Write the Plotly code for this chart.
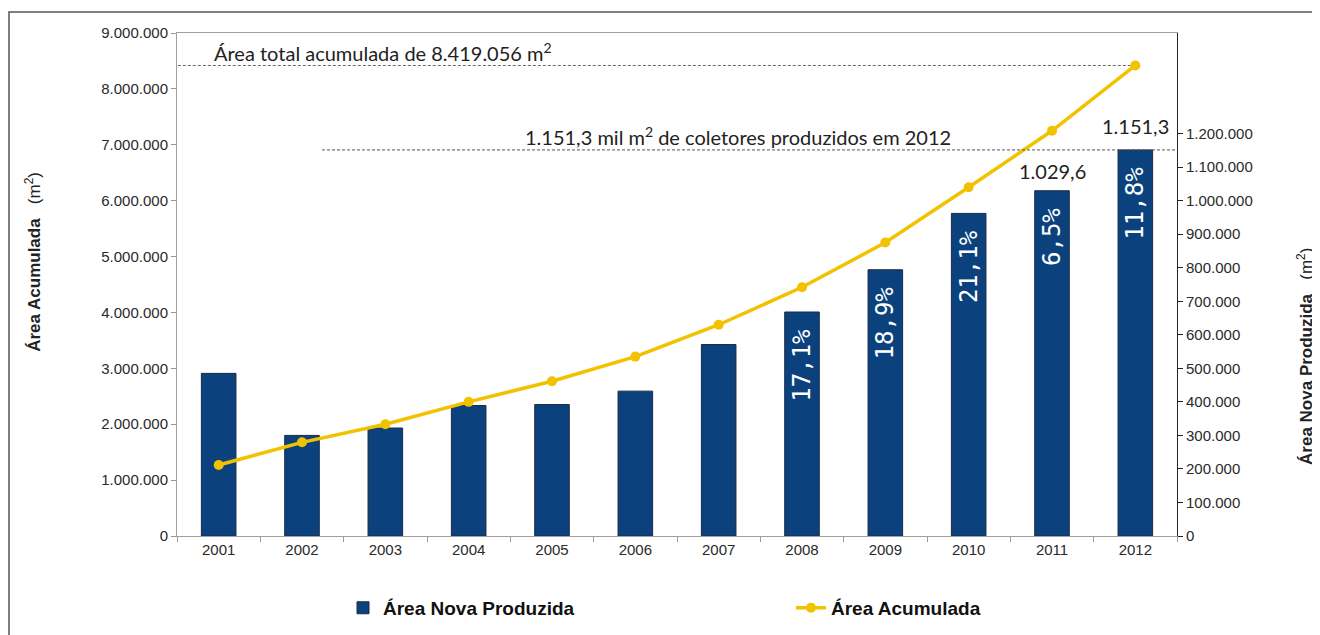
import plotly.graph_objects as go

years = ["2001", "2002", "2003", "2004", "2005", "2006",
         "2007", "2008", "2009", "2010", "2011", "2012"]
area_nova = [485000, 300000, 322000, 389000, 392000, 432000,
             571000, 668000, 794000, 962000, 1029600, 1151300]
area_acumulada = [1270000, 1676000, 2000000, 2400000, 2770000, 3210000,
                  3780000, 4450000, 5250000, 6240000, 7250000, 8419056]
pct_labels = ["", "", "", "", "", "", "", "17,1%", "18,9%", "21,1%", "6,5%", "11,8%"]
left_ticks = [0, 1000000, 2000000, 3000000, 4000000, 5000000, 6000000, 7000000, 8000000, 9000000]
right_ticks = [0, 100000, 200000, 300000, 400000, 500000, 600000,
               700000, 800000, 900000, 1000000, 1100000, 1200000]
top_labels = {"2011": "1.029,6", "2012": "1.151,3"}

BAR = "#0B427E"
GOLD = "#F2C200"
TICKFONT = dict(family="Liberation Sans, Arial", size=15, color="#2A2A2A")
NOTEFONT = dict(family="Lato", size=20, color="#222222")

# a non-breaking space keeps the rotated label a little below the bar top
bar_text = [(t + "\u00a0") if t else "" for t in pct_labels]

fig = go.Figure()
# bars on the primary (right-side) axis, line on the overlaying (left-side) axis so it draws on top
fig.add_trace(go.Bar(
    x=years, y=area_nova, yaxis="y", name="Área Nova Produzida",
    marker=dict(color=BAR, line=dict(color="#1C2B45", width=1)),
    text=bar_text, textposition="inside", insidetextanchor="end",
    textangle=-90, constraintext="none",
    textfont=dict(family="DejaVu Sans Mono", size=24, color="white"),
))
fig.add_trace(go.Scatter(
    x=years, y=area_acumulada, yaxis="y2", name="Área Acumulada",
    mode="lines+markers",
    line=dict(color=GOLD, width=3.5),
    marker=dict(color=GOLD, size=10),
))

annotations = [
    dict(xref="x", yref="y2", x=-0.08, y=area_acumulada[-1], xanchor="left", yanchor="bottom",
         text="Área total acumulada de 8.419.056 m<sup>2</sup>", showarrow=False, yshift=-2,
         font=NOTEFONT),
    dict(xref="x", yref="y", x=6.23, y=area_nova[-1], xanchor="center", yanchor="bottom",
         text="1.151,3 mil m<sup>2</sup> de coletores produzidos em 2012", showarrow=False, yshift=-1,
         font=NOTEFONT),
    dict(xref="paper", yref="paper", x=-0.144, y=0.545, xanchor="center", yanchor="middle",
         textangle=-90, showarrow=False,
         text="<b>Área Acumulada</b>   (m<sup>2</sup>)",
         font=dict(family="Liberation Sans, Arial", size=17, color="#222222")),
    dict(xref="paper", yref="paper", x=1.128, y=0.356, xanchor="center", yanchor="middle",
         textangle=-90, showarrow=False,
         text="<b>Área Nova Produzida</b>   (m<sup>2</sup>)",
         font=dict(family="Liberation Sans, Arial", size=17, color="#222222")),
]
for yr, lab in top_labels.items():
    i = years.index(yr)
    annotations.append(dict(xref="x", yref="y", x=i, y=area_nova[i], xanchor="center",
                            yanchor="bottom", text=lab, showarrow=False,
                            yshift=6 if yr == "2011" else 10,
                            font=NOTEFONT))

shapes = [
    dict(type="line", xref="x", yref="y2", x0=-0.55, x1=11, y0=area_acumulada[-1], y1=area_acumulada[-1],
         line=dict(color="#666666", width=1, dash="3px,2px"), layer="below"),
    dict(type="line", xref="x", yref="y", x0=1.24, x1=11.61, y0=area_nova[-1], y1=area_nova[-1],
         line=dict(color="#555555", width=1, dash="3px,2px")),
    dict(type="rect", xref="paper", yref="paper", x0=-0.168, x1=1.3, y0=-0.4, y1=1.0417,
         line=dict(color="#555555", width=1.5), layer="below"),
]

fig.update_layout(
    width=1312, height=627,
    margin=dict(l=169, r=143, t=25, b=99, autoexpand=False),
    paper_bgcolor="white", plot_bgcolor="white",
    separators=",.",
    bargap=0.585,
    showlegend=True,
    legend=dict(orientation="h", x=0.166, y=-0.143, xanchor="left", yanchor="middle",
                entrywidth=403, entrywidthmode="pixels",
                font=dict(family="Liberation Sans Narrow, Liberation Sans, Arial", size=19,
                          color="#111111", weight="bold"),
                traceorder="normal"),
    xaxis=dict(type="category", tickson="boundaries", ticks="outside", ticklen=5,
               tickcolor="#999999", showline=True, linecolor="#A0A0A0", mirror=True,
               showgrid=False, tickfont=TICKFONT, range=[-0.5, 11.5], automargin=False),
    yaxis=dict(range=[0, 1500000], tickvals=right_ticks, tickformat=",.0f",
               side="right", showline=True, linecolor="#222222", ticks="outside", ticklen=5,
               tickcolor="#222222", showgrid=False, zeroline=False, tickfont=TICKFONT,
               automargin=False),
    yaxis2=dict(range=[0, 9000000], tickvals=left_ticks, tickformat=",.0f", overlaying="y",
                side="left", showline=True, linecolor="#A0A0A0", ticks="outside", ticklen=5,
                tickcolor="#999999", showgrid=False, zeroline=False, tickfont=TICKFONT,
                automargin=False),
    annotations=annotations,
    shapes=shapes,
)

fig.write_html("out.html")
